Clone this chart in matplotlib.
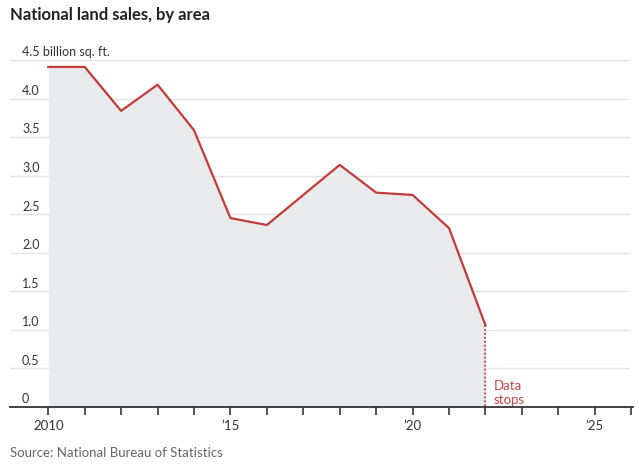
import matplotlib.pyplot as plt

years = [2010, 2011, 2012, 2013, 2014, 2015, 2016, 2017, 2018, 2019, 2020, 2021, 2022]
area = [4.41, 4.41, 3.84, 4.18, 3.59, 2.45, 2.36, 2.75, 3.14, 2.78, 2.75, 2.32, 1.06]

y_ticks = [0, 0.5, 1.0, 1.5, 2.0, 2.5, 3.0, 3.5, 4.0, 4.5]
y_labels = ["0", "0.5", "1.0", "1.5", "2.0", "2.5", "3.0", "3.5", "4.0", "4.5 billion sq. ft."]
x_ticks = [2010, 2015, 2020, 2025]
x_labels = ["2010", "\u201915", "\u201920", "\u201925"]

red = "#c23b3b"
font = ["Lato", "DejaVu Sans"]

fig = plt.figure(figsize=(6.39, 4.77), dpi=100)
ax = fig.add_axes([10 / 639, 1 - 408 / 477, 623 / 639, 347 / 477])

ax.fill_between(years, area, 0, color="#e9eaec", lw=0, zorder=1)
ax.plot(years, area, color=red, lw=1.6, zorder=3)
ax.plot([years[-1], years[-1]], [area[-1], 0], color=red, lw=1.3, ls=(0, (1, 1.2)), zorder=3)
ax.text(years[-1] + 0.22, 0.2, "Data\nstops", color="#c04848", fontsize=9.5, family=font,
        ha="left", va="center", linespacing=1.2)

ax.set_xlim(2008.95, 2026.05)
ax.set_ylim(0, 4.5)

for y in y_ticks[1:]:
    ax.axhline(y, color="#e3e3e3", lw=1, zorder=0, xmax=0.993)
for y, lab in zip(y_ticks, y_labels):
    ax.text(12 / 623, y + 0.035, lab, transform=ax.get_yaxis_transform(), fontsize=9,
            family=font, color="#333333", ha="left", va="bottom")

ax.set_yticks([])
ax.set_xticks(x_ticks)
ax.set_xticklabels(x_labels, family=font, fontsize=9.5, color="#333333")
ax.set_xticks(list(range(2010, 2027)), minor=True)
ax.tick_params(axis="x", which="both", direction="out", length=6, width=1.2, color="#333333", pad=3)

for s in ["top", "right", "left"]:
    ax.spines[s].set_visible(False)
ax.spines["bottom"].set_color("#333333")
ax.spines["bottom"].set_linewidth(1.3)
ax.patch.set_alpha(0)

fig.text(10 / 639, 1 - 15 / 477, "National land sales, by area", fontsize=12, fontweight="bold",
         family=font, color="#222222", ha="left", va="center")
fig.text(10 / 639, 1 - 453 / 477, "Source: National Bureau of Statistics", fontsize=9.5,
         family=font, color="#666666", ha="left", va="center")

fig.savefig("out.png", dpi=100)
